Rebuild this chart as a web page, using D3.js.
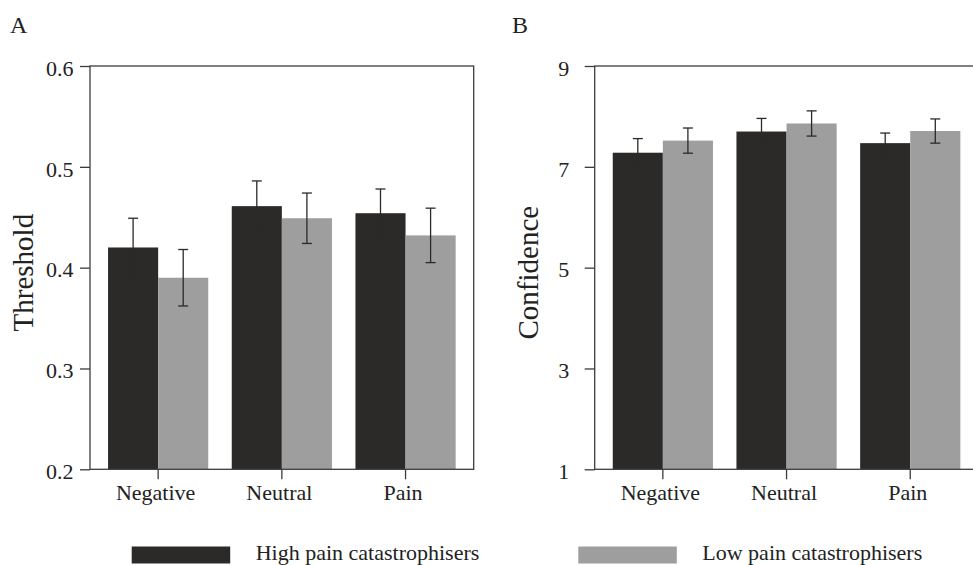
<!DOCTYPE html>
<html>
<head>
<meta charset="utf-8">
<script src="https://cdn.jsdelivr.net/npm/d3@7"></script>
<style>
  html, body { margin: 0; padding: 0; background: #fff; }
  svg { display: block; font-family: "Liberation Serif", "Times New Roman", serif; }
</style>
</head>
<body>
<svg id="chart" width="973" height="565"></svg>
<script>
// ---- data ----
const categories = ["Negative", "Neutral", "Pain"];
const seriesNames = ["High pain catastrophisers", "Low pain catastrophisers"];

const thresholdHigh   = [0.420, 0.461, 0.454];
const thresholdHighSE = [0.029, 0.025, 0.024];
const thresholdLow    = [0.390, 0.449, 0.432];
const thresholdLowSE  = [0.028, 0.025, 0.027];

const confidenceHigh   = [7.28, 7.70, 7.47];
const confidenceHighSE = [0.28, 0.26, 0.20];
const confidenceLow    = [7.52, 7.86, 7.71];
const confidenceLowSE  = [0.25, 0.25, 0.24];

const thresholdTicks  = [0.2, 0.3, 0.4, 0.5, 0.6];
const confidenceTicks = [1, 3, 5, 7, 9];

// ---- style ----
const colors = ["#2b2a28", "#9d9e9d"];
const lineColor = "#3c3c3c";
const errColor = "#2b2a28";

const svg = d3.select("#chart");

function panel(opts) {
  const { left, right, top, bottom, domain, ticks, fmt, high, highSE, low, lowSE,
          letter, letterX, title, titleX, labelPad } = opts;
  const g = svg.append("g");

  const x = d3.scaleBand().domain(categories).range([left, right])
    .paddingInner(0.19).paddingOuter(0.146);
  const xs = d3.scaleBand().domain(seriesNames).range([0, x.bandwidth()]);
  const y = d3.scaleLinear().domain(domain).range([bottom, top]);

  const rows = [];
  categories.forEach((c, i) => {
    rows.push({ c, s: seriesNames[0], v: high[i], e: highSE[i], k: 0 });
    rows.push({ c, s: seriesNames[1], v: low[i], e: lowSE[i], k: 1 });
  });

  // bars
  g.selectAll("rect.bar").data(rows).join("rect")
    .attr("class", "bar")
    .attr("x", d => x(d.c) + xs(d.s))
    .attr("width", xs.bandwidth())
    .attr("y", d => y(d.v))
    .attr("height", d => y(domain[0]) - y(d.v))
    .attr("fill", d => colors[d.k]);

  // error bars
  const eb = g.selectAll("g.err").data(rows).join("g").attr("class", "err")
    .attr("stroke", errColor).attr("stroke-width", 1.3).attr("fill", "none");
  const cx = d => x(d.c) + xs(d.s) + xs.bandwidth() / 2;
  eb.append("line")
    .attr("x1", cx).attr("x2", cx)
    .attr("y1", d => y(d.v - d.e)).attr("y2", d => y(d.v + d.e));
  eb.append("line")
    .attr("x1", d => cx(d) - 5).attr("x2", d => cx(d) + 5)
    .attr("y1", d => y(d.v + d.e)).attr("y2", d => y(d.v + d.e));
  eb.append("line")
    .attr("x1", d => cx(d) - 5).attr("x2", d => cx(d) + 5)
    .attr("y1", d => y(d.v - d.e)).attr("y2", d => y(d.v - d.e));

  // frame
  g.append("rect")
    .attr("x", left).attr("y", top)
    .attr("width", right - left).attr("height", bottom - top)
    .attr("fill", "none").attr("stroke", lineColor).attr("stroke-width", 1.3);

  // y axis
  const ya = g.append("g").attr("transform", `translate(${left},0)`)
    .call(d3.axisLeft(y).tickValues(ticks).tickFormat(fmt).tickSize(10).tickPadding(labelPad));
  ya.select(".domain").remove();
  ya.selectAll(".tick line").attr("stroke", lineColor).attr("stroke-width", 1.3);
  ya.selectAll(".tick text").attr("font-size", 22).attr("fill", "#222")
    .attr("font-family", "Liberation Serif").attr("dy", "0.42em");

  // x axis
  const xa = g.append("g").attr("transform", `translate(0,${bottom})`)
    .call(d3.axisBottom(x).tickSize(10).tickPadding(5));
  xa.select(".domain").remove();
  xa.selectAll(".tick line").attr("stroke", lineColor).attr("stroke-width", 1.3);
  xa.selectAll(".tick text").attr("font-size", 22).attr("fill", "#222")
    .attr("font-family", "Liberation Serif").attr("dx", -2.5);

  // panel letter
  g.append("text").attr("x", letterX).attr("y", 33)
    .attr("font-size", 24).attr("fill", "#222").text(letter);

  // axis title
  g.append("text")
    .attr("transform", `translate(${titleX},${(top + bottom) / 2 + 5}) rotate(-90)`)
    .attr("text-anchor", "middle")
    .attr("font-size", 29).attr("fill", "#222").text(title);
}

panel({
  left: 90, right: 473.7, top: 66, bottom: 469.3,
  domain: [0.2, 0.6], ticks: thresholdTicks, fmt: d3.format(".1f"),
  high: thresholdHigh, highSE: thresholdHighSE, low: thresholdLow, lowSE: thresholdLowSE,
  letter: "A", letterX: 10, title: "Threshold", titleX: 33, labelPad: 6.5
});

panel({
  left: 594.7, right: 978.4, top: 66, bottom: 469.3,
  domain: [1, 9], ticks: confidenceTicks, fmt: d3.format("d"),
  high: confidenceHigh, highSE: confidenceHighSE, low: confidenceLow, lowSE: confidenceLowSE,
  letter: "B", letterX: 512, title: "Confidence", titleX: 538, labelPad: 15.5
});

// legend
const legendX = [131.7, 578.3];
const legend = svg.append("g").selectAll("g").data(seriesNames).join("g");
legend.append("rect")
  .attr("x", (d, i) => legendX[i]).attr("y", 546.5)
  .attr("width", 98.5).attr("height", 17)
  .attr("fill", (d, i) => colors[i]);
legend.append("text")
  .attr("x", (d, i) => legendX[i] + 124)
  .attr("y", 560)
  .attr("font-size", 22).attr("fill", "#222").text(d => d);
</script>
</body>
</html>
